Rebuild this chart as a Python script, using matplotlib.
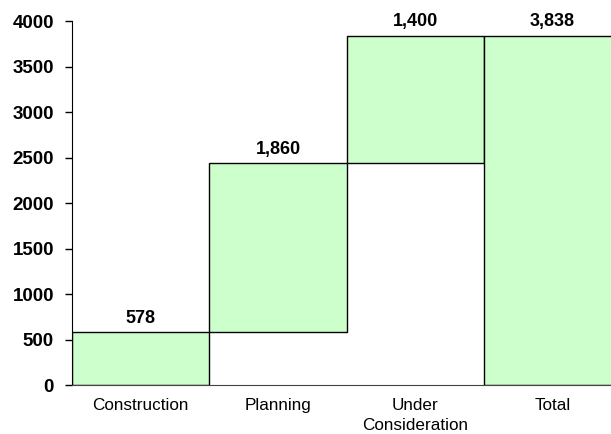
import matplotlib
matplotlib.use("Agg")
import matplotlib.pyplot as plt

categories = ["Construction", "Planning", "Under\nConsideration", "Total"]
values = [578, 1860, 1400, 3838]
value_labels = ["578", "1,860", "1,400", "3,838"]

# waterfall bottoms: running total, last bar starts at zero
bottoms = []
running = 0
for v in values[:-1]:
    bottoms.append(running)
    running += v
bottoms.append(0)

plt.rcParams['font.family'] = ['Liberation Sans', 'DejaVu Sans']

fig = plt.figure(figsize=(6.11, 4.34), dpi=100)
ax = fig.add_axes([0.1178, 0.1129, 0.899, 0.8387])

x = list(range(len(categories)))
ax.bar(x, values, bottom=bottoms, width=1.0, color='#CCFFCC',
       edgecolor='black', linewidth=1.0)

for xi, v, b, lab in zip(x, values, bottoms, value_labels):
    ax.text(xi, v + b + 60, lab, ha='center', va='bottom',
            fontsize=13, fontweight='bold')

ax.set_xlim(-0.5, 3.5)
ax.set_ylim(0, 4000)
ax.set_yticks(range(0, 4001, 500))
ax.set_xticks(x)
ax.set_xticklabels(categories, fontsize=12.3, linespacing=1.45, va='top')
ax.tick_params(axis='x', length=0, pad=9)
ax.tick_params(axis='y', length=5, width=1, labelsize=13.5, pad=8)
for lab in ax.get_yticklabels():
    lab.set_fontweight('bold')

ax.spines['top'].set_visible(False)
ax.spines['right'].set_visible(False)
ax.spines['bottom'].set_color('#444444')
ax.spines['left'].set_color('black')

fig.savefig("out.png", dpi=100)
